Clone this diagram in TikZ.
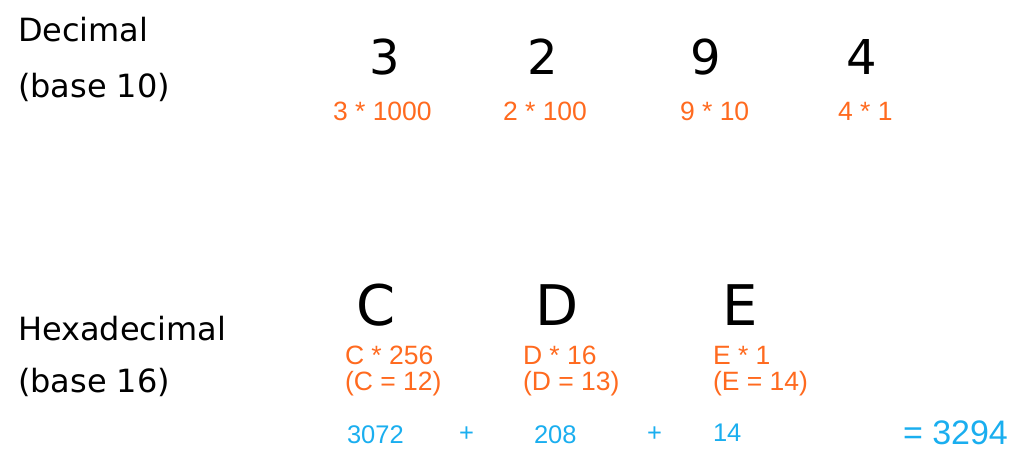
\documentclass[tikz,border=0pt]{standalone}
\usepackage{fontspec}
\setmainfont{Liberation Sans}
\newfontfamily\hand{DejaVu Sans}
\definecolor{orng}{HTML}{FF6A1F}
\definecolor{sky}{HTML}{1AAEEF}
\begin{document}
\begin{tikzpicture}[x=1pt,y=-1pt,
  every node/.style={inner sep=0pt,outer sep=0pt},
  label/.style={anchor=base west,font=\hand\fontsize{32}{38}\selectfont},
  digit/.style={anchor=base,font=\hand\fontsize{48}{56}\selectfont},
  letter/.style={anchor=base west,font=\hand\fontsize{56}{64}\selectfont},
  mult/.style={anchor=base west,text=orng,font=\fontsize{26.5}{31}\selectfont},
  sum/.style={anchor=base west,text=sky,font=\fontsize{25.5}{30}\selectfont},
  total/.style={anchor=base west,text=sky,font=\fontsize{34}{40}\selectfont}]
\useasboundingbox (0,0) rectangle (1015,457);
% decimal
\node[label] (dec) at (18,42) {Decimal};
\node[label] (dec2) at (18,98) {(base 10)};
\node[digit] (d3) at (385,75) {3};
\node[digit] (d2) at (543,75) {2};
\node[digit] (d9) at (706,75) {9};
\node[digit] (d4) at (862,75) {4};
\node[mult] (m3) at (333,121) {3 * 1000};
\node[mult] (m2) at (503,121) {2 * 100};
\node[mult] (m9) at (680,121) {9 * 10};
\node[mult] (m4) at (838,121) {4 * 1};
% hexadecimal
\node[label] (hex) at (18,340) {Hexadecimal};
\node[label] (hex2) at (18,392) {(base 16)};
\node[letter] (hc) at (356,325) {C};
\node[letter] (hd) at (535,325) {D};
\node[letter] (he) at (722,325) {E};
\node[mult] (mc) at (345,364) {C * 256};
\node[mult] (mc2) at (345,390) {(C = 12)};
\node[mult] (md) at (523,364) {D * 16};
\node[mult] (md2) at (523,390) {(D = 13)};
\node[mult] (me) at (713,364) {E * 1};
\node[mult] (me2) at (713,390) {(E = 14)};
\node[sum] (s1) at (347,443) {3072};
\node[sum] (p1) at (459,441) {+};
\node[sum] (s2) at (534,443) {208};
\node[sum] (p2) at (647,441) {+};
\node[sum] (s3) at (713,441) {14};
\node[total] (tot) at (903,444) {= 3294};
\end{tikzpicture}
\end{document}
